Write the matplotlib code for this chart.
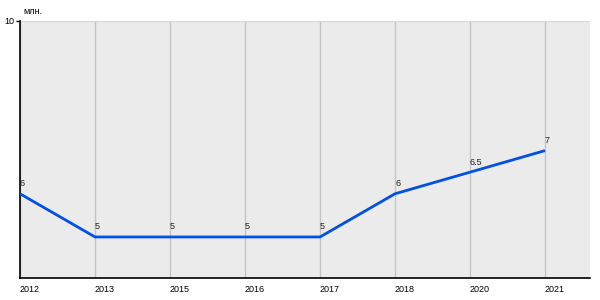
import matplotlib
matplotlib.use("Agg")
import matplotlib.pyplot as plt

years = ["2012", "2013", "2015", "2016", "2017", "2018", "2020", "2021"]
values = [6, 5, 5, 5, 5, 6, 6.5, 7]
value_labels = ["6", "5", "5", "5", "5", "6", "6.5", "7"]
y_top = 10
y_bottom = 4.05
unit = "млн."

plt.rcParams["font.family"] = ["Liberation Sans", "DejaVu Sans"]

fig = plt.figure(figsize=(6, 3), dpi=100)
ax = fig.add_axes([20 / 600, 22 / 300, 570 / 600, 257 / 300])
ax.set_facecolor("#ebebeb")

x = list(range(len(years)))
ax.plot(x, values, color="#0050e6", lw=2, solid_capstyle="butt", zorder=3)

for xi in x:
    ax.axvline(xi, color="#c4c4c4", lw=1, zorder=1)
ax.axhline(y_top, color="#d8d8d8", lw=1.5, zorder=1)

for xi, v, lbl in zip(x, values, value_labels):
    ax.annotate(lbl, (xi, v), xytext=(0, 4), textcoords="offset points",
                ha="left", va="bottom", fontsize=6.5, color="#222222", zorder=4)

ax.set_xlim(0, 7.6)
ax.set_ylim(y_bottom, y_top)
ax.set_xticks(x)
ax.set_xticklabels(years, fontsize=6.5, ha="left")
ax.tick_params(axis="x", length=0, pad=5)
ax.set_yticks([y_top])
ax.set_yticklabels([str(y_top)], fontsize=6.5)
ax.tick_params(axis="y", length=3, pad=1, width=1)

for s in ["top", "right"]:
    ax.spines[s].set_visible(False)
ax.spines["left"].set_linewidth(1.2)
ax.spines["bottom"].set_linewidth(1.2)

fig.text(23 / 600, 1 - 12 / 300, unit, fontsize=6.5, ha="left", va="center")

fig.savefig("out.png", dpi=100, facecolor="white")
